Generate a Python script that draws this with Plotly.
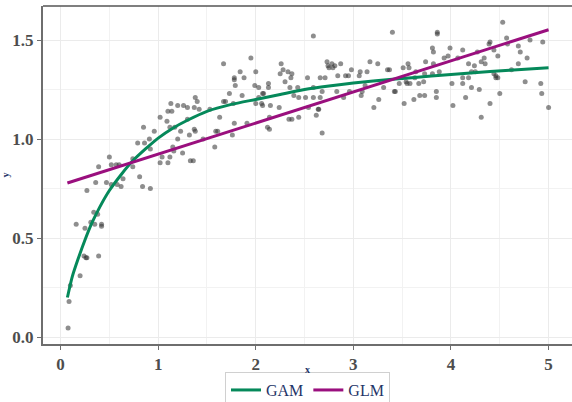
import plotly.graph_objects as go

pts_x = [0.077, 0.087, 0.10, 0.20, 0.24, 0.26, 0.27, 0.39, 0.16, 0.25, 0.31, 0.34, 0.35, 0.38, 0.42, 0.42,
         0.27, 0.36, 0.39, 0.47, 0.50, 0.52, 0.52, 0.57, 0.58, 0.60, 0.62, 0.64, 0.74, 0.74, 0.79, 0.81,
         0.84, 0.85, 0.86, 0.91, 0.92, 0.92, 0.96, 1.02, 1.02, 1.04, 1.09, 1.10, 1.10, 1.12, 1.12, 1.13,
         1.14, 1.15, 1.16, 1.17, 1.20, 1.20, 1.23, 1.25, 1.26, 1.30, 1.30, 1.32, 1.33, 1.36, 1.37, 1.38,
         1.38, 1.40, 1.37, 1.42, 1.46, 1.53, 1.58, 1.59, 1.61, 1.63, 1.67,
         1.67, 1.69, 1.73, 1.77, 1.76, 1.78, 1.78, 1.78, 1.79, 1.84, 1.86, 1.88, 1.91, 1.95, 1.99, 2.00,
         2.00, 2.03, 2.03, 2.06, 2.07, 2.07, 2.08, 2.12, 2.13, 2.13, 2.14, 2.14, 2.15, 2.24, 2.25, 2.26,
         2.28, 2.30, 2.33, 2.35, 2.36, 2.37, 2.34, 2.37, 2.39, 2.43, 2.44, 2.44, 2.51, 2.53, 2.54, 2.59,
         2.59, 2.59, 2.62, 2.64, 2.645, 2.66, 2.66, 2.68, 2.68, 2.71, 2.73, 2.75, 2.74, 2.78, 2.81, 2.79,
         2.83, 2.84, 2.87, 2.90, 2.92, 2.95, 2.96, 2.98, 3.06, 3.07, 3.08, 3.09, 3.12, 3.14, 3.17, 3.21,
         3.25, 3.26, 3.31, 3.35, 3.40, 3.42,
         3.37, 3.43, 3.47, 3.51, 3.52, 3.54, 3.55, 3.56, 3.57, 3.58, 3.62, 3.63, 3.64, 3.67, 3.68, 3.72,
         3.73, 3.74, 3.73, 3.81, 3.82, 3.82, 3.81, 3.85, 3.85, 3.86, 3.86, 3.88, 3.93, 3.97, 3.99, 4.01,
         4.02, 4.07, 4.12, 4.12, 4.12, 4.15, 4.18, 4.18, 4.21, 4.21, 4.24, 4.25, 4.27, 4.29, 4.31, 4.31,
         4.34, 4.35, 4.39, 4.40, 4.40, 4.44, 4.46, 4.44, 4.46, 4.48, 4.48, 4.50, 4.53, 4.57, 4.58, 4.62,
         4.69, 4.69, 4.71, 4.76, 4.78, 4.81, 4.92, 4.93, 4.94, 5.00]
pts_y = [0.046, 0.18, 0.26, 0.31, 0.41, 0.40, 0.40, 0.41, 0.57, 0.55, 0.58, 0.63, 0.57, 0.62, 0.57, 0.56,
         0.74, 0.78, 0.86, 0.78, 0.91, 0.87, 0.77, 0.87, 0.77, 0.87, 0.76, 0.80, 0.90, 0.86, 0.98, 0.81,
         0.76, 1.06, 0.98, 1.00, 0.95, 0.75, 1.04, 1.11, 0.88, 0.91, 1.09, 0.88, 1.14, 1.06, 0.91, 1.18,
         1.14, 0.96, 0.94, 1.06, 1.17, 1.00, 1.04, 0.93, 1.17, 1.10, 1.16, 1.02, 0.89, 0.89, 1.05, 1.04,
         1.21, 1.19, 1.16, 1.15, 1.00, 1.15, 0.96, 1.04, 1.04, 1.11, 1.19,
         1.38, 1.19, 1.23, 1.18, 1.02, 1.08, 1.30, 1.31, 1.27, 1.34, 1.22, 1.31, 1.08, 1.41, 1.27, 1.34,
         1.18, 1.26, 1.21, 1.18, 1.17, 1.23, 1.23, 1.06, 1.28, 1.26, 1.05, 1.11, 1.17, 1.16, 1.33, 1.38,
         1.35, 1.29, 1.34, 1.26, 1.31, 1.33, 1.10, 1.10, 1.22, 1.26, 1.21, 1.11, 1.21, 1.31, 1.16, 1.21,
         1.52, 1.26, 1.12, 1.15, 1.15, 1.31, 1.21, 1.03, 1.24, 1.31, 1.39, 1.36, 1.37, 1.38, 1.37, 1.36,
         1.24, 1.32, 1.38, 1.21, 1.32, 1.32, 1.24, 1.35, 1.32, 1.34, 1.22, 1.24, 1.27, 1.34, 1.39, 1.16,
         1.38, 1.20, 1.26, 1.35, 1.54, 1.24,
         1.35, 1.24, 1.28, 1.36, 1.18, 1.29, 1.28, 1.38, 1.36, 1.28, 1.20, 1.31, 1.34, 1.28, 1.22, 1.29,
         1.22, 1.39, 1.33, 1.46, 1.44, 1.38, 1.33, 1.24, 1.21, 1.54, 1.53, 1.34, 1.41, 1.42, 1.46, 1.28,
         1.17, 1.41, 1.31, 1.28, 1.45, 1.21, 1.38, 1.31, 1.26, 1.34, 1.37, 1.34, 1.44, 1.25, 1.39, 1.11,
         1.41, 1.38, 1.48, 1.49, 1.18, 1.33, 1.32, 1.45, 1.31, 1.42, 1.31, 1.23, 1.59, 1.51, 1.48, 1.35,
         1.47, 1.38, 1.44, 1.29, 1.41, 1.50, 1.28, 1.23, 1.49, 1.16]

# GAM fit
gam_x = [0.07, 0.12, 0.18, 0.25, 0.32, 0.40, 0.50, 0.62, 0.74, 0.87, 1.0, 1.15, 1.3, 1.5, 1.75,
         2.0, 2.25, 2.5, 2.75, 3.0, 3.4, 3.8, 4.2, 4.6, 5.0]
gam_y = [0.20, 0.305, 0.395, 0.49, 0.575, 0.655, 0.74, 0.82, 0.89, 0.95, 1.005, 1.055, 1.095, 1.14, 1.175,
         1.20, 1.225, 1.25, 1.268, 1.283, 1.302, 1.318, 1.333, 1.348, 1.36]

# GLM fit
glm_x = [0.07, 5.0]
glm_y = [0.778, 1.552]

x_ticks = [0, 1, 2, 3, 4, 5]
y_ticks = [0.0, 0.5, 1.0, 1.5]

navy = "#1f3468"
tick_col = "#4d4d4d"
serif = "Liberation Serif"

fig = go.Figure()
fig.add_trace(go.Scatter(x=pts_x, y=pts_y, mode="markers", showlegend=False,
                         marker=dict(size=5, color="rgba(50,50,50,0.55)", line=dict(width=0)),
                         hoverinfo="x+y"))
fig.add_trace(go.Scatter(x=gam_x, y=gam_y, mode="lines", name="GAM",
                         line=dict(color="#05895a", width=3, shape="spline", smoothing=0.6)))
fig.add_trace(go.Scatter(x=glm_x, y=glm_y, mode="lines", name="GLM",
                         line=dict(color="#9a0f7e", width=3)))

axis_common = dict(
    showgrid=True, gridcolor="#ebebeb", gridwidth=1,
    zeroline=False, showline=True, linecolor="#6e6e6e", linewidth=2,
    ticks="outside", ticklen=4, tickcolor="#6e6e6e", tickwidth=1,
    automargin=False,
    tickfont=dict(family=serif, size=17, color=tick_col, weight="bold"),
)

fig.update_xaxes(range=[-0.18, 5.24], tickvals=x_ticks, mirror=False,
                 minor=dict(showgrid=True, gridcolor="#f2f2f2", gridwidth=1, dtick=0.5, tick0=0),
                 **axis_common)
fig.update_yaxes(range=[-0.035, 1.672], tickvals=y_ticks, tickformat=".1f",
                 minor=dict(showgrid=True, gridcolor="#f2f2f2", gridwidth=1, dtick=0.25, tick0=0),
                 title=dict(text="y", font=dict(family=serif, size=10, color=navy, weight="bold"), standoff=15),
                 **axis_common)

fig.update_layout(
    width=572, height=420,
    margin=dict(l=43, r=0, t=6, b=76),
    paper_bgcolor="white", plot_bgcolor="white",
    shapes=[dict(type="line", xref="paper", yref="paper", x0=0, x1=1, y0=1, y1=1,
                 line=dict(color="#555555", width=1.5))],
    annotations=[dict(text="<b>x</b>", xref="paper", yref="paper", x=0.5, y=-0.074,
                      xanchor="center", yanchor="middle", showarrow=False,
                      font=dict(family=serif, size=10, color=navy))],
    legend=dict(orientation="h", x=0.5, xanchor="center", y=-0.083, yanchor="top",
                bordercolor="#d0d0d0", borderwidth=1, bgcolor="white",
                font=dict(family=serif, size=16, color=navy)),
    hovermode="closest",
)

fig.write_html("out.html", config={"displayModeBar": False},
               post_script="document.body.style.margin='0';document.body.style.overflow='hidden';")
